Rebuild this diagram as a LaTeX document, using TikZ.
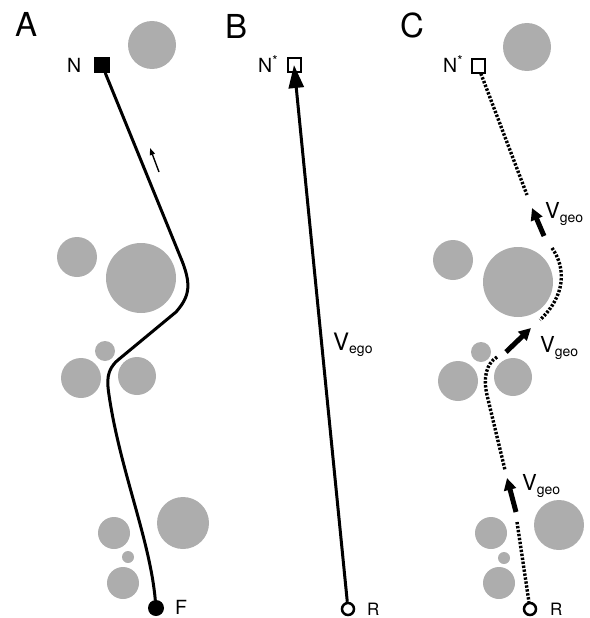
\documentclass[tikz,border=0pt]{standalone}
\usepackage{fontspec}
\setmainfont{TeX Gyre Heros}
\usetikzlibrary{arrows.meta}
\begin{document}
\begin{tikzpicture}[x=1pt,y=-1pt,
  obst/.style={fill=black!32,draw=none},
  route/.style={line width=3pt,line cap=round},
  dots/.style={line width=3.4pt,line cap=butt,dash pattern=on 2.4pt off 1.6pt},
  vel/.style={line width=5pt,-{Triangle[length=12pt,width=12pt]}},
  lbl/.style={font=\fontsize{19.5}{20}\selectfont,inner sep=0pt,anchor=base west},
  small/.style={font=\fontsize{17}{18}\selectfont,inner sep=0pt,anchor=base west},
  panel/.style={font=\fontsize{33}{33}\selectfont,inner sep=0pt,anchor=base west},
  vlab/.style={font=\fontsize{22}{22}\selectfont,inner sep=0pt,anchor=base west},
  fullsq/.style={fill=black,draw=none,minimum size=16pt,inner sep=0pt},
  opensq/.style={draw=black,line width=2pt,fill=white,minimum size=13pt,inner sep=0pt},
  fulldot/.style={circle,fill=black,draw=none,minimum size=16pt,inner sep=0pt},
  opendot/.style={circle,draw=black,line width=2.5pt,minimum size=12pt,inner sep=0pt}]
\useasboundingbox (0,0) rectangle (589,618);

% ---------------- Panel A ----------------
\node[panel] (labA) at (15,37) {A};
\fill[obst] (152,45) circle[radius=24pt];
\fill[obst] (77,257) circle[radius=20pt];
\fill[obst] (141,278) circle[radius=35pt];
\fill[obst] (105,351) circle[radius=10pt];
\fill[obst] (81,378) circle[radius=20pt];
\fill[obst] (137,376) circle[radius=19pt];
\fill[obst] (114,533) circle[radius=16pt];
\fill[obst] (128,557) circle[radius=6pt];
\fill[obst] (123,583) circle[radius=16pt];
\fill[obst] (183,523) circle[radius=26pt];

\node[fullsq] (Na) at (102,65) {};
\node[lbl] (labNa) at (67,72) {N};
\node[fulldot] (F) at (156,608) {};
\node[lbl] (labF) at (175,614) {F};
\draw[route] (Na) -- (180,256) .. controls (192,284) and (190,296) .. (176,312)
  -- (118,360) .. controls (106,370) and (107,382) .. (109,395)
  .. controls (120,470) and (150,540) .. (F);
\coordinate (sa1) at (159,172);
\coordinate (sa2) at (150,148);
\draw[line width=1.4pt,-{Triangle[length=7pt,width=5pt]}] (sa1) -- (sa2);

% ---------------- Panel B ----------------
\node[panel] (labB) at (225,38) {B};
\node[opensq] (Nb) at (294,65) {};
\node[lbl] (labNb) at (258,73) {N\textsuperscript{*}};
\node[opendot] (Rb) at (348,609) {};
\node[small] (labRb) at (367,615) {R};
\draw[line width=3pt,-{Triangle[length=23pt,width=15pt]}] (Rb) -- (Nb.center);
\node[font=\fontsize{24}{24}\selectfont,inner sep=0pt,anchor=base west] (vego) at (333,350)
  {V\raisebox{-3pt}{\fontsize{14}{14}\selectfont ego}};

% ---------------- Panel C ----------------
\node[panel] (labC) at (400,37.5) {C};
\fill[obst] (527,47) circle[radius=24pt];
\fill[obst] (453,260) circle[radius=20pt];
\fill[obst] (518,282) circle[radius=35pt];
\fill[obst] (481,352) circle[radius=10pt];
\fill[obst] (458,381) circle[radius=20pt];
\fill[obst] (513,377) circle[radius=19pt];
\fill[obst] (491,533) circle[radius=16pt];
\fill[obst] (504,558) circle[radius=6pt];
\fill[obst] (499,583) circle[radius=16pt];
\fill[obst] (559,525) circle[radius=25pt];

\node[opensq] (Nc) at (478,66) {};
\node[lbl] (labNc) at (443,73) {N\textsuperscript{*}};
\node[opendot] (Rc) at (530,609) {};
\node[small] (labRc) at (550,615) {R};

\coordinate (c1e) at (527,195);
\coordinate (c2s) at (552,248);
\coordinate (c2e) at (540,320);
\coordinate (c3s) at (497,357);
\coordinate (c3e) at (505,470);
\coordinate (c4s) at (517,522);
\draw[dots] (Nc) -- (c1e);
\draw[dots] (c2s) .. controls (566,268) and (566,295) .. (c2e);
\draw[dots] (c3s) .. controls (486,364) and (483,378) .. (487,395) -- (c3e);
\draw[dots] (c4s) -- (Rc);

\coordinate (g1s) at (544,236);
\coordinate (g1e) at (532,208);
\coordinate (g2s) at (506,352);
\coordinate (g2e) at (531,328);
\coordinate (g3s) at (516,512);
\coordinate (g3e) at (507,478);
\draw[vel] (g1s) -- (g1e);
\draw[vel] (g2s) -- (g2e);
\draw[vel] (g3s) -- (g3e);
\node[vlab] (vg1) at (545,218) {V\raisebox{-4pt}{\fontsize{14}{14}\selectfont geo}};
\node[vlab] (vg2) at (540,352) {V\raisebox{-4pt}{\fontsize{14}{14}\selectfont geo}};
\node[vlab] (vg3) at (522,490) {V\raisebox{-4pt}{\fontsize{14}{14}\selectfont geo}};
\end{tikzpicture}
\end{document}
